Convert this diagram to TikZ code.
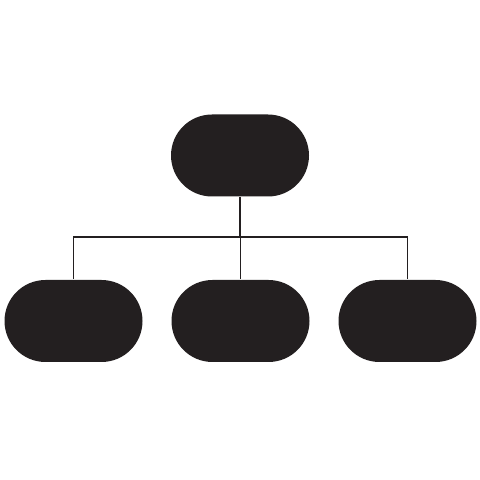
\documentclass[tikz,border=0pt]{standalone}
\usepackage{tikz}
\usetikzlibrary{shapes.misc}
\definecolor{ink}{HTML}{231F20}

\begin{document}
\begin{tikzpicture}[x=1pt,y=1pt,line width=1.5pt,ink]
	\tikzset{pill/.style={rounded rectangle,fill=ink,draw=none,inner sep=0pt,minimum width=138pt,minimum height=82pt}}
	\useasboundingbox (0,0) rectangle (480,480);
	
	%TOP BOX
	\node[pill] (top) at (240,324.5) {};
	
	%BOTTOM ROW
	\foreach \i/\x in {1/73.5,2/240.5,3/407.5}{
		\node[pill] (b\i) at (\x,159) {};
	}
	
	%CONNECTORS
	\coordinate (split) at (240,243);
	\draw (top.south) -- (split);
	\foreach \i in {1,2,3}{
		\draw (split) -| (b\i.north);
	}
\end{tikzpicture}
\end{document}
